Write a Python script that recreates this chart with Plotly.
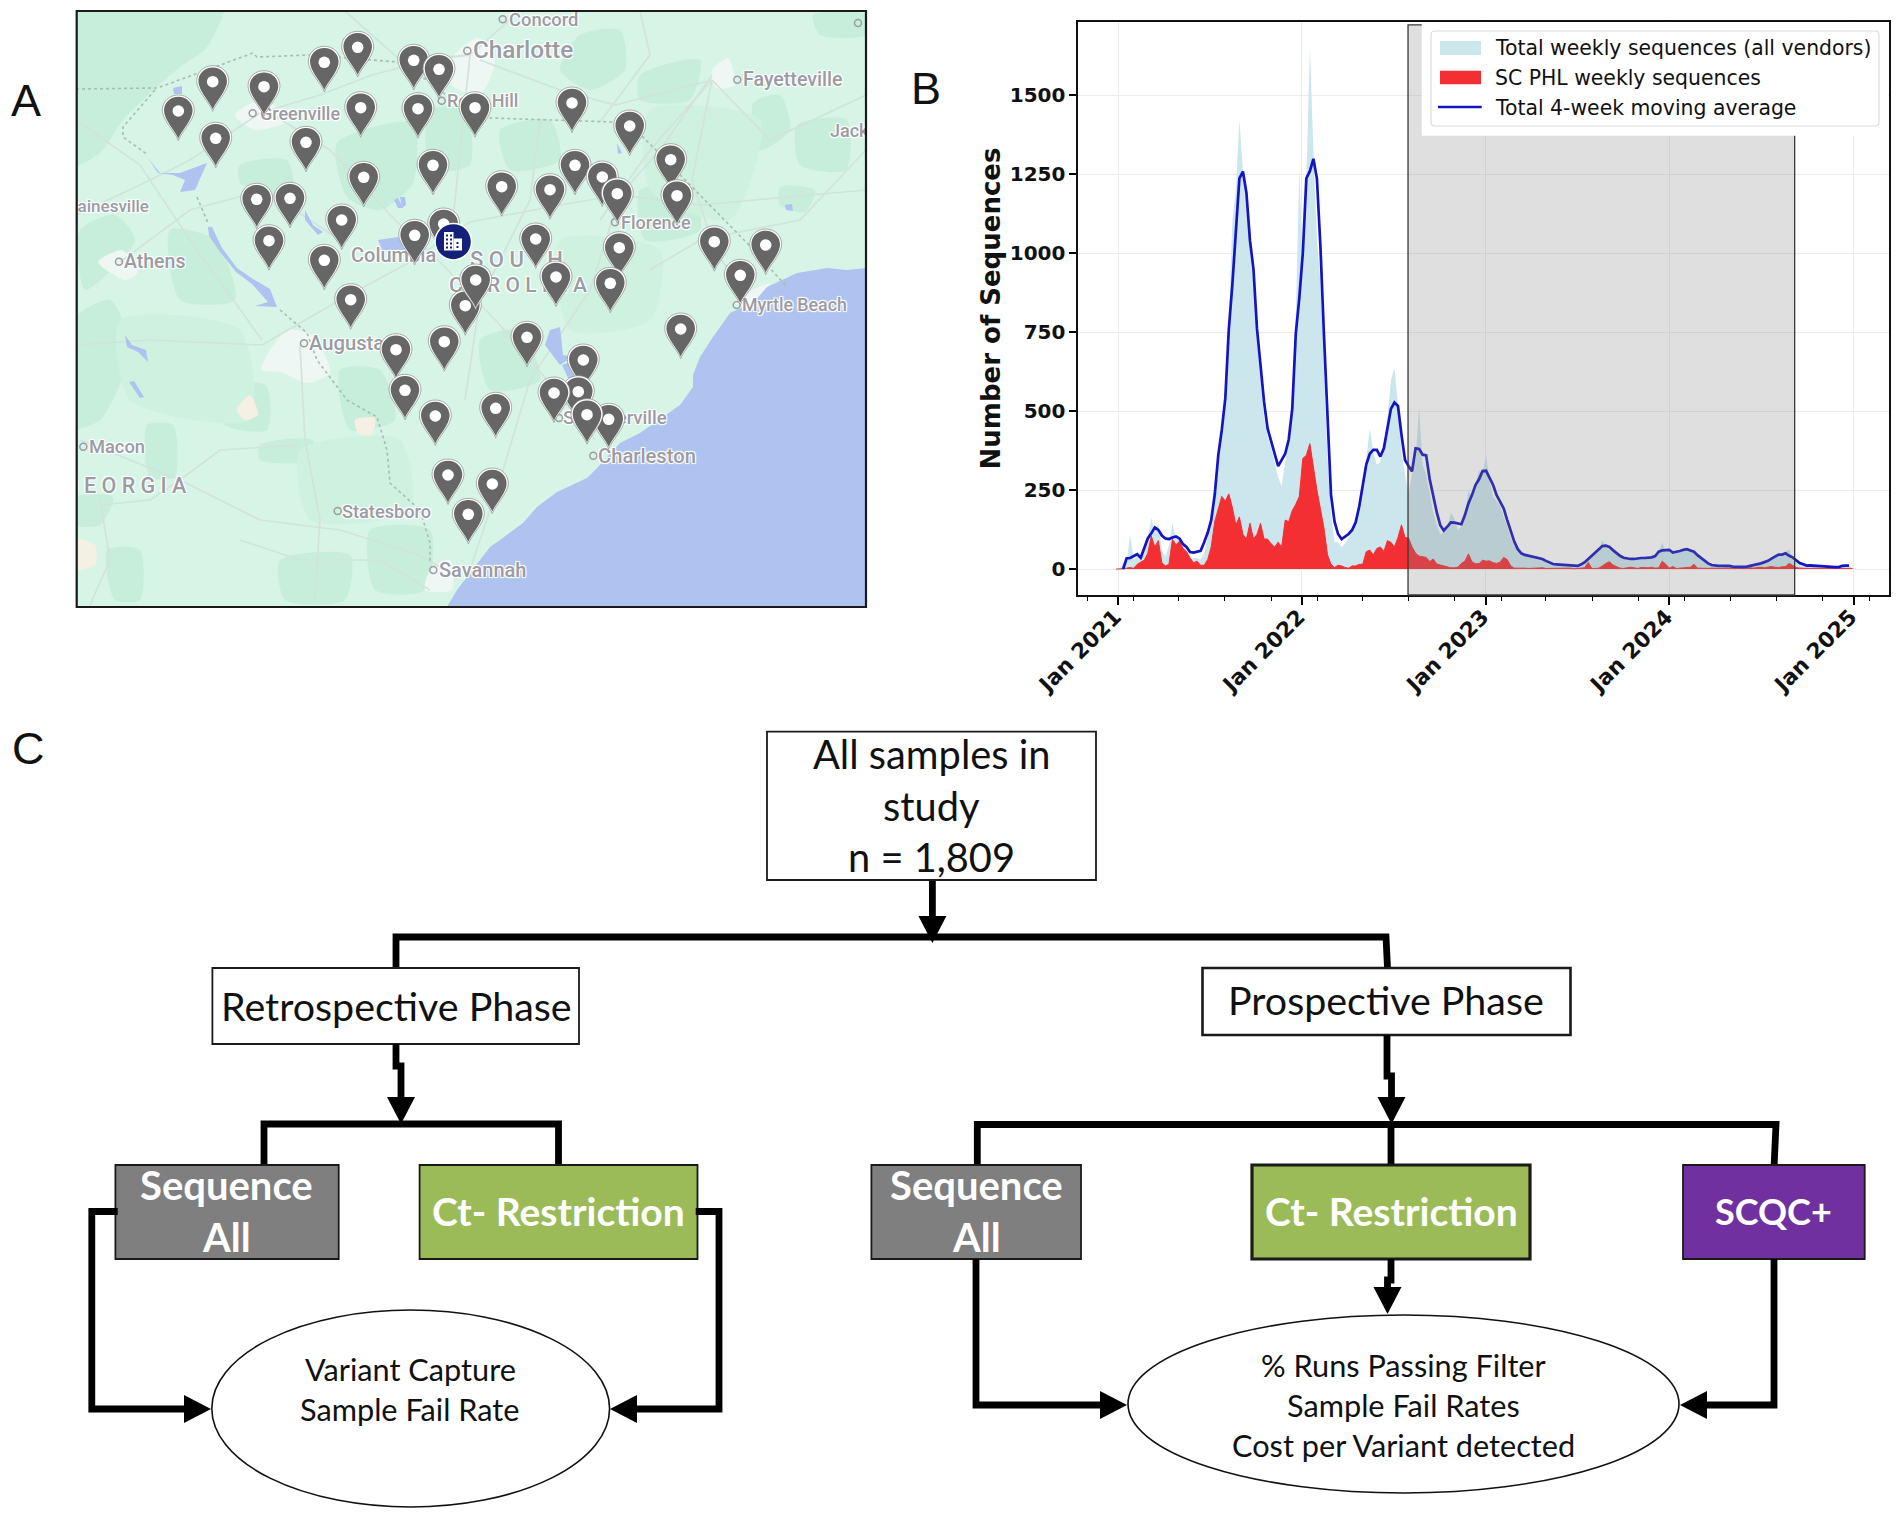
import pandas as pd
import plotly.graph_objects as go

W, H = 1901, 1519

# ---------- Panel B data (weekly values) ----------
first_week = "2020-12-28"
total_weekly = [
    0,0,20,25,108,30,40,30,70,100,
    162,120,145,60,40,75,145,95,100,75,
    60,30,35,35,30,50,100,150,235,360,
    450,540,780,1100,1200,1420,1260,1180,1000,900,
    720,600,480,420,385,340,290,263,340,400,
    500,800,1264,940,1230,1650,1320,1050,900,650,
    350,180,85,85,70,80,100,120,150,200,
    260,350,444,370,330,340,395,480,597,637,
    520,370,300,240,300,350,512,330,300,240,
    180,140,110,115,130,179,160,123,135,170,
    250,220,270,313,300,361,280,230,215,200,
    165,135,100,75,55,45,42,40,38,35,
    33,30,24,20,15,14,14,13,12,11,
    10,10,14,20,30,40,50,60,92,70,
    62,55,48,40,34,31,30,31,33,34,
    34,34,36,40,55,84,55,60,50,52,
    55,60,64,56,52,42,34,25,17,12,
    11,10,10,11,10,8,7,7,7,8,
    10,12,15,18,22,26,32,38,45,47,
    55,62,36,26,18,14,11,12,11,11,
    9,7,7,6,6,6,10,11,11,3]
phl_weekly = [
    0,0,1,3,5,2,15,22,28,50,
    105,70,90,20,10,15,94,77,88,65,
    55,35,20,25,12,12,30,70,150,190,
    230,215,238,195,140,165,110,95,145,95,
    110,145,95,95,80,70,85,70,155,150,
    185,205,230,350,360,397,320,250,190,130,
    45,15,5,12,10,5,3,10,10,15,
    15,55,60,45,65,70,55,90,85,70,
    100,140,100,98,70,50,41,40,37,24,
    32,16,13,10,6,4,4,6,18,25,
    48,23,17,17,28,25,26,20,18,22,
    37,30,10,3,3,4,3,2,3,4,
    5,4,2,2,2,2,2,3,4,3,
    1,2,3,4,21,2,2,3,10,18,
    23,13,8,3,2,3,6,4,2,5,
    4,4,6,3,4,25,15,3,8,2,
    3,5,5,6,15,3,2,2,2,3,
    2,3,2,3,2,3,4,3,5,3,
    4,3,5,6,4,5,8,6,5,7,
    8,18,12,5,3,2,2,2,3,2,
    2,2,2,1,2,2,2,3,3,2]
moving_avg = [
    None,None,0,34,35,42,47,36,68,97,
    113,132,124,106,97,95,100,103,97,79,
    70,54,52,56,58,85,115,155,235,360,
    440,540,760,900,1080,1236,1258,1190,1040,948,
    760,631,529,445,400,365,326,345,365,410,
    507,744,857,1000,1236,1259,1298,1235,1020,740,
    461,235,150,111,95,102,111,124,148,198,
    258,331,365,377,377,356,382,444,507,527,
    516,425,345,326,309,382,380,362,360,285,
    228,180,139,122,134,148,147,145,142,171,
    208,234,266,284,310,311,287,266,234,213,
    192,155,118,87,63,50,45,42,39,36,
    34,32,26,21,16,15,14,13,12,11,
    10,10,15,22,32,42,52,63,73,74,
    70,60,51,42,36,33,32,32,34,35,
    35,35,37,41,55,59,60,61,52,54,
    57,61,63,59,55,44,36,27,18,13,
    11,10,10,11,10,8,7,7,7,8,
    10,12,15,18,22,26,33,39,46,46,
    50,42,37,28,19,15,11,12,11,11,
    9,7,7,6,6,6,10,11,11,None]
year_ticks = ["2021-01-01", "2022-01-01", "2023-01-01", "2024-01-01", "2025-01-01"]
year_labels = ["Jan 2021", "Jan 2022", "Jan 2023", "Jan 2024", "Jan 2025"]
quarter_ticks = ["2020-11-01"] + [f"{y}-{m}-01" for y in (2021, 2022, 2023, 2024) for m in ("02", "05", "08", "11")] + ["2025-02-01"]
count_ticks = [0, 250, 500, 750, 1000, 1250, 1500]
study_span = ["2022-07-31", "2024-09-06"]
legend_names = ["Total weekly sequences (all vendors)", "SC PHL weekly sequences", "Total 4-week moving average"]

# ---------- Panel A data (sites, map-plane units) ----------
site_x = [212.7,264,324.3,357.7,413.7,439,178.3,215.7,360.7,418,475,306,363.7,433,256.7,290,341.7,443.7,414.7,269,324.3,350.7,
          465.3,475.7,572,629.7,670.7,575,602.3,617.3,501.7,550,677,535.7,619.3,714.3,765.7,740.3,556,610.3,
          396,444.3,405,435.3,448,468.3,680.7,527,583.3,578.3,554,495.7,608.7,587,492.3]
site_y = [81.7,86.7,62.3,47.3,60.3,69.3,111,138.3,107.7,108.7,107.7,142.3,177.3,165.3,199.3,198.3,220,224,235.3,240.7,260.3,299.7,
          305.7,280,103,126,159.7,165.3,177,193.7,186.7,189.7,195.7,239,247.7,241.7,245,275.3,277,283.3,
          349.7,341.7,390.3,416,475,514.3,329,337.3,360,391.7,393,408.3,419.3,414.7,484]
lab_name = ["Concord","Charlotte","Fayetteville","Rock Hill","Greenville","Gainesville","Athens","Columbia",
            "S O U T H","C A R O L I N A","Augusta","Macon","G E O R G I A","Statesboro","Savannah","Charleston",
            "Summerville","Florence","Myrtle Beach","Jacksonville"]
lab_x = [509,473,743,447,260,66,124,351,470,449,309,89,64,342,439,598,563,621,742,830]
lab_y = [21,52,81,102,115,208,263,257,261,287,345,448,488,513,572,458,419,224,307,132]
lab_size = [18.4,24.3,19.6,18,18,17,19.5,20,22,21,20.2,18.3,21.5,18.2,20,20.2,18.5,18,17.8,18]
dot_name_x = [502.7,467.3,737.3,441.7,252.7,119,304,83.3,337.7,433.3,593.3,559,615,736.7,858]
dot_name_y = [19.3,50.7,79.7,100.7,113.3,261.7,343.3,446.7,511,570,455.7,418,222.3,305,23]

M_L, M_R, M_T, M_B = 76.7, 866, 11, 607
B_L, B_R, B_T, B_B = 1078.3, 1888.8, 22, 595

fig = go.Figure()

# ---- Panel B traces
weeks = pd.date_range(first_week, periods=len(total_weekly), freq="7D")
fig.add_trace(go.Scatter(x=weeks, y=total_weekly, name=legend_names[0], mode="none", fill="tozeroy",
                         fillcolor="#cce6ee", xaxis="x", yaxis="y"))
fig.add_trace(go.Scatter(x=weeks, y=phl_weekly, name=legend_names[1], mode="lines", fill="tozeroy",
                         fillcolor="#f42f33", line=dict(color="#f42f33", width=1), xaxis="x", yaxis="y"))
fig.add_trace(go.Scatter(x=weeks, y=moving_avg, name=legend_names[2], mode="lines",
                         line=dict(color="#1414c0", width=2.7), xaxis="x", yaxis="y"))

# ---- Panel A base map (drawn on its own clipped axes)
def patch(pts, color, smooth=True):
    line = dict(width=0, shape="spline", smoothing=0.7) if smooth else dict(width=0)
    pts = list(pts) + [pts[0]]
    fig.add_trace(go.Scatter(x=[p[0] for p in pts], y=[p[1] for p in pts], mode="lines", fill="toself",
                             fillcolor=color, line=line, xaxis="x3", yaxis="y3", hoverinfo="skip"))

def road(pts, color="#d3e2dc", width=1.7, dash=None):
    fig.add_trace(go.Scatter(x=[p[0] for p in pts], y=[p[1] for p in pts], mode="lines",
                             line=dict(color=color, width=width, dash=dash), xaxis="x3", yaxis="y3", hoverinfo="skip"))

DK = "#c6eedb"
MD = "#cef1e0"
for poly in [
    [(60,-10),(227,-10),(207,47),(180,67),(157,87),(123,120),(100,153),(60,170)],
    [(337,143),(413,123),(413,183),(380,210),(347,197)],
    [(240,165),(287,160),(293,197),(240,183)],
    [(580,35),(620,30),(625,70),(590,90),(560,70)],
    [(753,103),(780,95),(790,130),(760,150)],
    [(797,125),(847,120),(846,170),(800,165)],
    [(813,15),(866,15),(866,35),(820,35)],
    [(780,187),(815,190),(805,212),(780,205)],
    [(213,390),(266,385),(267,430),(225,425)],
    [(260,445),(313,440),(313,460),(260,460)],
    [(107,550),(140,550),(140,600),(115,600)],
    [(76,497),(113,497),(100,525),(76,525)],
    [(147,425),(173,425),(175,477),(150,477)],
    [(60,330),(110,300),(130,350),(100,420),(60,430)],
    [(340,370),(380,370),(395,420),(350,430)],
    [(640,75),(700,60),(690,100),(640,100)],
    [(500,130),(550,120),(560,160),(510,170)],
    [(480,340),(520,330),(540,380),(490,390)],
    [(370,530),(430,530),(425,590),(375,590)],
    [(280,560),(350,555),(345,600),(285,600)],
    [(640,190),(690,185),(700,230),(645,240)],
    [(80,230),(115,215),(135,240),(85,290)],
    [(170,230),(215,240),(235,300),(180,300)],
    [(430,110),(465,110),(470,165),(430,170)],
]:
    patch(poly, DK)
for poly in [
    [(120,320),(240,330),(250,420),(130,400)],
    [(300,450),(400,440),(410,510),(310,520)],
    [(560,240),(660,250),(650,320),(570,330)],
    [(650,110),(760,120),(730,220),(650,190)],
]:
    patch(poly, MD)
# urban areas
WH = "#eef7f3"
for poly in [
    [(450,60),(478,38),(495,60),(480,95),(452,85)],
    [(235,115),(262,100),(290,120),(255,130)],
    [(261,370),(287,330),(313,336),(330,373),(307,383),(280,372)],
    [(98,262),(122,250),(138,272),(125,280)],
    [(430,570),(450,560),(452,590),(425,590)],
    [(712,70),(728,58),(735,85),(716,88)],
    [(733,303),(752,290),(770,283),(750,305)],
]:
    patch(poly, WH)
patch([(76,540),(95,545),(95,565),(76,570)], "#f5f0e4")
patch([(237,410),(250,395),(258,415),(245,420)], "#f5efe4")
patch([(355,420),(375,418),(372,435),(358,433)], "#f5efe4")
# roads
for pts in [
    [(76,215),(140,185),(190,160),(260,113),(320,95),(372,75),(430,60),(470,55)],
    [(265,110),(330,150),(395,220),(440,262),(500,325),(560,395),(595,440)],
    [(262,345),(340,300),(410,262),(470,222),(560,205),(620,195)],
    [(470,570),(500,480),(530,380),(590,290),(620,195),(660,150),(712,75)],
    [(470,55),(460,150),(453,220)],
    [(80,440),(180,480),(260,520),(340,530),(420,555),(445,570)],
    [(300,345),(305,440),(320,520),(315,600)],
    [(76,345),(150,340),(262,345)],
    [(480,60),(560,90),(615,105),(712,80)],
    [(712,80),(650,150),(600,220)],
    [(712,80),(770,140),(866,95)],
    [(712,80),(692,180),(715,250),(745,295)],
    [(76,120),(140,165),(190,240),(262,340)],
    [(600,122),(650,55),(640,11)],
    [(345,11),(400,60),(470,55),(520,11)],
    [(620,195),(700,205),(866,190)],
    [(100,505),(150,500),(180,480),(220,450),(300,445)],
    [(120,262),(190,210),(265,190),(340,240)],
    [(90,605),(110,560),(100,500)],
    [(240,540),(300,560),(380,560),(430,590)],
    [(540,120),(530,200),(480,300),(465,400)],
    [(650,270),(700,240),(800,220),(866,150)],
]:
    road(pts)
# lakes
BL = "#aec3f0"
for poly in [
    [(148,158),(160,173),(180,173),(207,163),(195,190),(180,192),(185,180),(173,175),(158,173)],
    [(208,227),(212,227),(222,248),(237,268),(253,279),(270,289),(277,307),(255,306),(268,302),(252,284),(236,272),(220,252),(209,236)],
    [(378,240),(398,237),(405,250),(382,250)],
    [(394,200),(398,198),(403,208),(398,208)],
    [(400,197),(405,197),(406,205),(402,208)],
    [(550,330),(560,327),(563,355),(572,357),(560,365),(545,345)],
    [(562,365),(570,362),(575,378),(568,378)],
    [(125,335),(132,345),(146,350),(148,362),(138,352),(127,347)],
    [(129,382),(134,381),(144,397),(140,398)],
    [(173,88),(182,86),(182,94),(174,94)],
    [(785,205),(792,204),(793,211),(786,210)],
    [(617,143),(622,153),(618,154)],
    [(305,210),(313,225),(323,232),(318,235),(305,220)],
]:
    patch(poly, BL, smooth=False)
# ocean
patch([(447,607),(457,590),(480,560),(490,547),(500,540),(523,523),(537,507),(557,492),(587,478),(598,467),
       (620,443),(640,433),(663,417),(680,405),(693,387),(693,375),(700,357),(713,337),(730,313),(753,303),
       (767,287),(797,273),(827,268),(847,270),(866,268),(866,607)], BL, smooth=False)
# state lines
road([(76,89),(157,88),(193,75),(253,53),(257,57),(310,55),(397,62),(430,82),(462,108),(490,118),(613,122),
      (643,137),(747,243),(787,287)], color="#a8bcb3", width=1.6, dash="dot")
road([(155,90),(123,127),(123,137),(148,155)], color="#a8bcb3", width=1.6, dash="dot")
road([(197,197),(208,223)], color="#a8bcb3", width=1.6, dash="dot")
road([(280,310),(307,333),(317,360),(330,377),(347,400),(377,417),(387,450),(390,483),(420,510),(430,543),(430,563)],
     color="#a8bcb3", width=1.6, dash="dot")
# place names
fig.add_trace(go.Scatter(x=dot_name_x, y=dot_name_y, mode="markers", xaxis="x3", yaxis="y3", hoverinfo="skip",
                         marker=dict(symbol="circle-open", size=7, color="#9c9ca4", line=dict(width=1.5))))
fig.add_trace(go.Scatter(x=lab_x, y=lab_y, text=lab_name, mode="text", textposition="middle right",
                         xaxis="x3", yaxis="y3", hoverinfo="skip", cliponaxis=True,
                         textfont=dict(family="Roboto", size=lab_size, color="#9b9ba3", weight=500,
                                       shadow="1px 1px 1px #fff,-1px -1px 1px #fff,1px -1px 1px #fff,-1px 1px 1px #fff")))

shapes = []
annots = []

# ---- Panel B: shaded period + hand-placed legend
shapes.append(dict(type="rect", xref="x", yref="y domain", x0=study_span[0], x1=study_span[1], y0=0, y1=0.995,
                   fillcolor="rgba(128,128,128,0.25)", line=dict(color="#3a3a3a", width=1.3)))

def px_rect(x0, y0, x1, y1, fill, line="#000", lw=1.5, rx="x2", ry="y2"):
    shapes.append(dict(type="rect", xref=rx, yref=ry, x0=x0, y0=y0, x1=x1, y1=y1, fillcolor=fill,
                       line=dict(color=line, width=lw)))

px_rect(1421.7, 23, 1888, 135.7, "#ffffff", "#ffffff", 0)
shapes.append(dict(type="path", xref="x2", yref="y2", fillcolor="rgba(255,255,255,0.85)", line=dict(color="#dcdcdc", width=1.2),
                   path="M 1435,31 L 1875,31 Q 1879,31 1879,35 L 1879,122 Q 1879,126 1875,126 L 1435,126 Q 1431,126 1431,122 L 1431,35 Q 1431,31 1435,31 Z"))
px_rect(1440, 41, 1481, 55, "#cce6ee", "#cce6ee", 0)
px_rect(1440, 70.7, 1481, 84.3, "#f42f33", "#f42f33", 0)
shapes.append(dict(type="line", xref="x2", yref="y2", x0=1438, x1=1481.7, y0=107, y1=107, line=dict(color="#1414c0", width=2.7)))
for txt, yy in zip(legend_names, (47.7, 77.7, 107.5)):
    annots.append(dict(xref="x2", yref="y2", x=1492.5, y=yy, text=txt, showarrow=False, xanchor="left", yanchor="middle",
                       font=dict(family="DejaVu Sans", size=20.4, color="#111")))

# ---- Panel A: pins
def pin(x, y):
    outer = (f"M {x},{y+29.5} C {x-3},{y+21} {x-16},{y+9} {x-16},{y-0.5} C {x-16},{y-9.5} {x-9},{y-16} {x},{y-16} "
             f"C {x+9},{y-16} {x+16},{y-9.5} {x+16},{y-0.5} C {x+16},{y+9} {x+3},{y+21} {x},{y+29.5} Z")
    inner = (f"M {x},{y+27.5} C {x-3},{y+20} {x-14.3},{y+9} {x-14.3},{y-0.5} C {x-14.3},{y-8.5} {x-8},{y-14.3} {x},{y-14.3} "
             f"C {x+8},{y-14.3} {x+14.3},{y-8.5} {x+14.3},{y-0.5} C {x+14.3},{y+9} {x+3},{y+20} {x},{y+27.5} Z")
    shapes.append(dict(type="path", xref="x3", yref="y3", path=outer, fillcolor="#ffffff", line=dict(color="#8a8a8a", width=0.7)))
    shapes.append(dict(type="path", xref="x3", yref="y3", path=inner, fillcolor="#666666", line=dict(width=0)))
    shapes.append(dict(type="circle", xref="x3", yref="y3", x0=x-5.8, x1=x+5.8, y0=y-5.8, y1=y+5.8, fillcolor="#ffffff", line=dict(width=0)))

for xx, yy in zip(site_x, site_y):
    pin(xx, yy)

# hospital badge
shapes.append(dict(type="circle", xref="x3", yref="y3", x0=434.3, x1=472.3, y0=222.7, y1=260.7, fillcolor="#ffffff", line=dict(width=0)))
shapes.append(dict(type="circle", xref="x3", yref="y3", x0=435.8, x1=470.8, y0=224.2, y1=259.2, fillcolor="#14207a", line=dict(width=0)))
px_rect(444, 232, 453.5, 250.5, "#ffffff", "#ffffff", 0, "x3", "y3")
px_rect(453.5, 238.5, 462, 250.5, "#ffffff", "#ffffff", 0, "x3", "y3")
for wx, wy in [(446,234.5),(450,234.5),(446,238.5),(450,238.5),(446,242.5),(450,242.5),(446,246.5),(450,246.5),(456.5,242),(456.5,246)]:
    px_rect(wx, wy, wx+2, wy+2, "#14207a", "#14207a", 0, "x3", "y3")
# map frame
px_rect(M_L, M_T, M_R, M_B, "rgba(0,0,0,0)", "#1a1a1a", 2.2)

# ---- Panel C: flow chart
def boxed(x0, y0, x1, y1, fill="#ffffff", lw=1.8):
    px_rect(x0, y0, x1, y1, fill, "#1a1a1a", lw)

def label(x, y, txt, size, color="#111", bold=False):
    annots.append(dict(xref="x2", yref="y2", x=x, y=y, text=f"<b>{txt}</b>" if bold else txt, showarrow=False,
                       xanchor="center", yanchor="middle", font=dict(family="Lato", size=size, color=color)))

def wire(pts, lw=6.8):
    p = "M " + " L ".join(f"{a},{b}" for a, b in pts)
    shapes.append(dict(type="path", xref="x2", yref="y2", path=p, line=dict(color="#000", width=lw), fillcolor="rgba(0,0,0,0)"))

def head(tip_x, tip_y, d, length=27, half=14):
    if d == "down":
        p = f"M {tip_x},{tip_y} L {tip_x-half},{tip_y-length} L {tip_x+half},{tip_y-length} Z"
    elif d == "right":
        p = f"M {tip_x},{tip_y} L {tip_x-length},{tip_y-half} L {tip_x-length},{tip_y+half} Z"
    else:
        p = f"M {tip_x},{tip_y} L {tip_x+length},{tip_y-half} L {tip_x+length},{tip_y+half} Z"
    shapes.append(dict(type="path", xref="x2", yref="y2", path=p, fillcolor="#000", line=dict(width=0)))

wire([(932.4, 880), (932.4, 918)]); head(932.4, 943, "down")
wire([(396, 974), (396, 937), (1386, 937), (1387.5, 968)])
boxed(767, 731.7, 1096, 880)
label(931.5, 753, "All samples in", 39.8); label(931.5, 805, "study", 39.8); label(931.5, 856, "n = 1,809", 39.8)
boxed(212.4, 968, 579, 1044); label(396, 1005, "Retrospective Phase", 39.4)
boxed(1202.5, 968, 1570.5, 1035, lw=2.6); label(1386, 999, "Prospective Phase", 39.4)

wire([(396, 1044), (396, 1066), (401, 1066), (401, 1100)]); head(401, 1124, "down")
wire([(264, 1168), (264, 1124), (558.5, 1124), (558.5, 1168)])
wire([(1387, 1035), (1387, 1076), (1391.5, 1076), (1391.5, 1100)]); head(1391.5, 1124, "down")
wire([(977.3, 1166), (977.3, 1124.5), (1776, 1124.5), (1774, 1168)])
wire([(1391, 1124), (1391, 1168)])

boxed(115.4, 1165, 338.7, 1259, "#7f7f7f")
label(226, 1185, "Sequence", 40, "#ffffff", True); label(226, 1237, "All", 40, "#ffffff", True)
boxed(419.6, 1165, 697.5, 1259, "#9bbb59")
label(558, 1211, "Ct- Restriction", 39, "#ffffff", True)
boxed(871.4, 1165, 1081, 1259, "#7f7f7f")
label(976, 1185, "Sequence", 40, "#ffffff", True); label(976, 1237, "All", 40, "#ffffff", True)
boxed(1252, 1165, 1530, 1259, "#9bbb59", 3.2)
label(1391, 1211, "Ct- Restriction", 39, "#ffffff", True)
boxed(1683, 1165, 1864.7, 1259, "#7030a0")
label(1773.6, 1211, "SCQC+", 36, "#ffffff", True)

wire([(117.7, 1211.5), (91.8, 1211.5), (91.8, 1409), (186, 1409)]); head(211, 1409, "right")
wire([(695.7, 1211.5), (719, 1211.5), (719, 1409), (636, 1409)]); head(610, 1409, "left")
wire([(1391, 1259), (1391, 1280), (1387.5, 1280), (1387.5, 1290)]); head(1387.5, 1314, "down")
wire([(976, 1259), (976, 1405), (1102, 1405)]); head(1127, 1405, "right")
wire([(1774, 1259), (1774, 1405), (1706, 1405)]); head(1680, 1405, "left")

for (x0, x1, y0, y1) in [(211.8, 609.6, 1310, 1507), (1128, 1679, 1315, 1493)]:
    shapes.append(dict(type="circle", xref="x2", yref="y2", x0=x0, x1=x1, y0=y0, y1=y1, fillcolor="#ffffff",
                       line=dict(color="#111", width=1.6)))
label(410.4, 1369, "Variant Capture", 30.7); label(410.4, 1409, "Sample Fail Rate", 30.7)
label(1403, 1365, "% Runs Passing Filter", 30.7); label(1403, 1405, "Sample Fail Rates", 30.7); label(1403, 1445, "Cost per Variant detected", 30.7)

# panel letters
for txt, x, y in [("A", 25.5, 100), ("B", 926, 88), ("C", 28, 748)]:
    annots.append(dict(xref="x2", yref="y2", x=x, y=y, text=txt, showarrow=False, xanchor="center", yanchor="middle",
                       font=dict(family="Liberation Sans", size=45, color="#111")))

fig.update_layout(
    width=W, height=H, margin=dict(l=0, r=0, t=0, b=0), paper_bgcolor="#ffffff", plot_bgcolor="rgba(0,0,0,0)",
    showlegend=False, shapes=shapes, annotations=annots, hovermode=False,
    xaxis=dict(domain=[B_L / W, B_R / W], anchor="y", type="date", automargin=False,
               range=["2020-10-14", "2025-03-12"], tickmode="array", tickvals=year_ticks, ticktext=year_labels, tickangle=-45,
               ticks="outside", ticklen=8, tickwidth=1.6, tickcolor="#000", showline=True, linecolor="#111", linewidth=1.8, mirror=True,
               showgrid=True, gridcolor="#ececec", gridwidth=1.3, zeroline=False, ticklabelstandoff=-9, ticklabelshift=-3,
               tickfont=dict(family="DejaVu Sans", size=21.5, color="#111", weight=700),
               minor=dict(tickmode="array", tickvals=quarter_ticks, ticks="outside", ticklen=4, tickwidth=1.3, tickcolor="#000", showgrid=False)),
    yaxis=dict(domain=[1 - B_B / H, 1 - B_T / H], anchor="x", range=[-82, 1731], tickmode="array", tickvals=count_ticks, automargin=False,
               ticks="outside", ticklen=7, tickwidth=1.6, tickcolor="#000", showline=True, linecolor="#111", linewidth=1.8, mirror=True,
               showgrid=True, gridcolor="#ececec", gridwidth=1.3, zeroline=False,
               tickfont=dict(family="DejaVu Sans", size=20, color="#111", weight=700),
               title=dict(text="Number of Sequences", standoff=2, font=dict(family="DejaVu Sans", size=26, color="#111", weight=700))),
    xaxis2=dict(domain=[0, 1], range=[0, W], visible=False, anchor="y2", fixedrange=True, automargin=False),
    yaxis2=dict(domain=[0, 1], range=[H, 0], visible=False, anchor="x2", fixedrange=True, automargin=False),
    xaxis3=dict(domain=[M_L / W, M_R / W], range=[M_L, M_R], visible=False, anchor="y3", fixedrange=True, automargin=False),
    yaxis3=dict(domain=[1 - M_B / H, 1 - M_T / H], range=[M_B, M_T], visible=False, anchor="x3", fixedrange=True, automargin=False),
)
fig.add_shape(type="rect", xref="x3", yref="y3", x0=M_L, x1=M_R, y0=M_T, y1=M_B, fillcolor="#d6f5e7", line=dict(width=0), layer="below")

fig.write_html("out.html", config=dict(displayModeBar=False), post_script="document.body.style.margin='0';")
